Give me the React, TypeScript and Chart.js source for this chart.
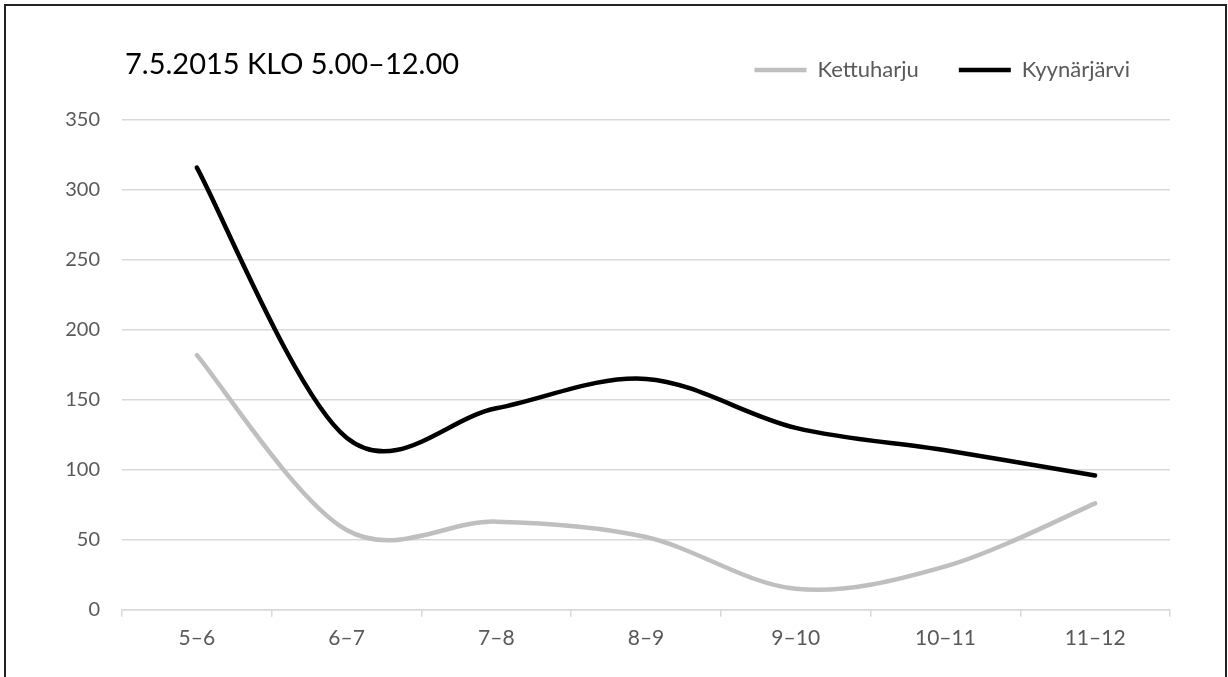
import React, { useEffect, useRef } from "react";
import { Chart, registerables } from "chart.js";

Chart.register(...registerables);

const categories = ["5–6", "6–7", "7–8", "8–9", "9–10", "10–11", "11–12"];
const kettuharju = [182, 57, 63, 52, 15, 31, 76];
const kyynarjarvi = [316, 123, 144, 165, 130, 114, 96];
const seriesNames = ["Kettuharju", "Kyynärjärvi"];
const yMin = 0;
const yMax = 350;
const yStep = 50;
const titleText = "7.5.2015 KLO 5.00–12.00";

const FONT = "Lato";
const TEXT_GRAY = "#595959";
const GRID_GRAY = "#D9D9D9";

// Spreadsheet-style smoothing: uniform Catmull-Rom control points (1/6 of neighbour span)
const smoothPlugin = {
  id: "sheetSmooth",
  beforeDatasetDraw(chart: any, args: any) {
    const meta = chart.getDatasetMeta(args.index);
    const pts = meta.data;
    const n = pts.length;
    for (let i = 0; i < n; i++) {
      const p = pts[i];
      const prev = pts[Math.max(0, i - 1)];
      const next = pts[Math.min(n - 1, i + 1)];
      const dx = (next.x - prev.x) / 6;
      const dy = (next.y - prev.y) / 6;
      p.cp1x = p.x - dx;
      p.cp1y = p.y - dy;
      p.cp2x = p.x + dx;
      p.cp2y = p.y + dy;
    }
    if (meta.dataset) {
      meta.dataset._pointsUpdated = true;
      meta.dataset._path = undefined;
    }
  },
};

const titlePlugin = {
  id: "sheetTitle",
  afterDraw(chart: any) {
    const ctx = chart.ctx;
    ctx.save();
    ctx.font = `29px ${FONT}`;
    ctx.fillStyle = "#000000";
    ctx.textAlign = "left";
    ctx.textBaseline = "middle";
    ctx.fillText(titleText, chart.chartArea.left + 3, 65);
    ctx.restore();
  },
};

const legendSpacePlugin = {
  id: "legendSpace",
  beforeLayout(chart: any) {
    const lg = chart.legend;
    if (lg && !lg.__patched) {
      const orig = lg.fit.bind(lg);
      lg.fit = function () {
        orig();
        this.height += 29;
      };
      lg.__patched = true;
    }
  },
};

export default function App() {
  const canvasRef = useRef<HTMLCanvasElement | null>(null);

  useEffect(() => {
    if (!canvasRef.current) return;
    const chart = new Chart(canvasRef.current, {
      type: "line",
      data: {
        labels: categories,
        datasets: [
          {
            label: seriesNames[0],
            data: kettuharju,
            borderColor: "#BFBFBF",
            backgroundColor: "#BFBFBF",
            borderWidth: 4.5,
            borderCapStyle: "round",
            borderJoinStyle: "round",
            pointRadius: 0,
            tension: 0.4,
            fill: false,
          },
          {
            label: seriesNames[1],
            data: kyynarjarvi,
            borderColor: "#000000",
            backgroundColor: "#000000",
            borderWidth: 4.5,
            borderCapStyle: "round",
            borderJoinStyle: "round",
            pointRadius: 0,
            tension: 0.4,
            fill: false,
          },
        ],
      },
      options: {
        animation: false,
        responsive: false,
        maintainAspectRatio: false,
        layout: { padding: { left: 66, right: 58, top: 19, bottom: 17 } },
        plugins: {
          legend: {
            display: true,
            position: "top",
            align: "end",
            labels: {
              usePointStyle: true,
              pointStyle: "line",
              pointStyleWidth: 52,
              padding: 40,
              color: TEXT_GRAY,
              font: { family: FONT, size: 22 },
            },
          },
          title: { display: false },
          tooltip: { enabled: false },
        },
        scales: {
          x: {
            offset: true,
            grid: {
              offset: true,
              drawOnChartArea: false,
              drawTicks: true,
              tickLength: 7,
              color: GRID_GRAY,
              lineWidth: 1.5,
            },
            border: { display: true, color: GRID_GRAY, width: 1.5 },
            ticks: {
              color: TEXT_GRAY,
              font: { family: FONT, size: 21 },
              padding: 9,
              maxRotation: 0,
              autoSkip: false,
            },
          },
          y: {
            min: yMin,
            max: yMax,
            ticks: {
              stepSize: yStep,
              color: TEXT_GRAY,
              font: { family: FONT, size: 20 },
              padding: 22,
            },
            grid: { color: GRID_GRAY, lineWidth: 1.5, drawTicks: false },
            border: { display: false },
            afterFit: (s: any) => {
              s.width = 56;
            },
          },
        },
      },
      plugins: [smoothPlugin, titlePlugin, legendSpacePlugin],
    } as any);
    return () => chart.destroy();
  }, []);

  return (
    <div style={{ position: "absolute", left: 0, top: 0, width: 1228, height: 677, overflow: "hidden", background: "#ffffff" }}>
      <canvas ref={canvasRef} width={1228} height={677} style={{ display: "block", width: 1228, height: 677 }} />
      <div
        style={{
          position: "absolute",
          left: 4,
          top: 4,
          width: 1223,
          height: 700,
          border: "2px solid #222222",
          boxSizing: "border-box",
          pointerEvents: "none",
        }}
      />
    </div>
  );
}
